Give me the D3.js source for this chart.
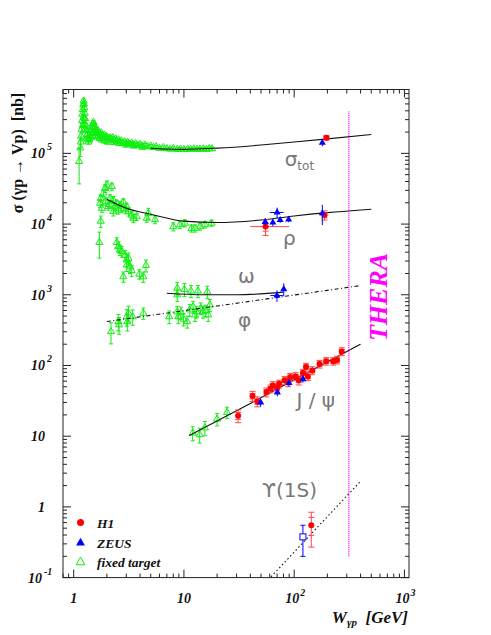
<!DOCTYPE html>
<meta charset="utf-8">
<script src="https://d3js.org/d3.v7.min.js"></script>
<style>
body { margin: 0; background: #fff; }
</style>
<body>
<script>
// ---- data: [W (GeV), sigma (nb), error (nb), (optional) W low, W high] ----
var totFixed = [
  [1.12,7.7e4,4e4],[1.15,1.2e5,3e4],[1.16,1.45e5,2.5e4],[1.17,1.75e5,2e4],[1.18,2.2e5,2e4],
  [1.19,2.9e5,2.5e4],[1.2,3.6e5,3e4],[1.21,4.2e5,3e4],[1.22,4.9e5,3e4],[1.23,5.5e5,4e4],
  [1.24,5.0e5,3e4],[1.25,4.4e5,2.5e4],[1.26,3.7e5,2e4],[1.27,3.1e5,2e4],[1.29,2.5e5,1.5e4],
  [1.31,2.1e5,1.5e4],[1.33,1.85e5,1.2e4],[1.35,1.65e5,1e4],[1.37,1.55e5,1e4],[1.39,1.6e5,1e4],
  [1.41,1.75e5,1e4],[1.43,1.95e5,1e4],[1.45,2.15e5,1.2e4],[1.47,2.35e5,1.2e4],[1.49,2.6e5,1.5e4],
  [1.51,2.75e5,1.5e4],[1.53,2.55e5,1.2e4],[1.55,2.35e5,1.2e4],[1.58,2.2e5,1e4],[1.6,2.05e5,1e4],
  [1.63,1.95e5,1e4],[1.66,2.1e5,1e4],[1.7,1.9e5,1e4],[1.74,1.8e5,1e4],[1.78,1.95e5,1e4],
  [1.82,1.75e5,1e4],[1.86,1.68e5,1e4],[1.9,1.82e5,1e4],[1.95,1.62e5,1e4],[2.0,1.72e5,1e4],
  [2.05,1.6e5,1e4],[2.1,1.55e5,1e4],[2.15,1.68e5,1e4],[2.2,1.58e5,8e3],[2.27,1.66e5,8e3],
  [2.33,1.52e5,8e3],[2.4,1.6e5,8e3],[2.47,1.48e5,8e3],[2.55,1.55e5,8e3],[2.62,1.45e5,8e3],
  [2.7,1.5e5,8e3],[2.8,1.41e5,8e3],[2.9,1.46e5,8e3],[3.0,1.38e5,8e3],[3.1,1.43e5,8e3],
  [3.2,1.35e5,7e3],[3.35,1.4e5,7e3],[3.5,1.32e5,7e3],[3.65,1.37e5,7e3],[3.8,1.3e5,7e3],
  [4.0,1.34e5,7e3],[4.2,1.27e5,7e3],[4.45,1.31e5,7e3],[4.7,1.24e5,6e3],[5.0,1.27e5,6e3],
  [5.3,1.21e5,6e3],[5.6,1.24e5,6e3],[6.0,1.18e5,6e3],[6.5,1.21e5,6e3],[7.0,1.17e5,6e3],
  [7.5,1.15e5,6e3],[8.0,1.17e5,6e3],[8.7,1.14e5,6e3],[9.3,1.15e5,6e3],[10,1.13e5,6e3],
  [10.8,1.15e5,6e3],[11.5,1.14e5,6e3],[12.3,1.16e5,6e3],[13.2,1.14e5,6e3],[14,1.15e5,6e3],
  [15,1.16e5,6e3],[16,1.14e5,6e3],[17,1.17e5,6e3],[18,1.16e5,6e3],
  [1.3,1.6e5,1e4],[1.36,1.45e5,1e4],[1.44,1.7e5,1e4],[1.5,1.9e5,1e4],[1.56,1.75e5,1e4],
  [1.65,1.7e5,1e4],[1.72,1.62e5,1e4],[1.8,1.55e5,1e4],[1.92,1.5e5,1e4],[2.03,1.45e5,1e4],
  [2.3,1.43e5,8e3],[2.6,1.38e5,8e3],[3.0,1.31e5,7e3],[3.5,1.27e5,7e3],[4.2,1.22e5,6e3],
  [1.27,2.2e5,2e4],[1.25,2.6e5,2e4],[1.23,3.2e5,3e4],[1.21,2.5e5,2e4]
];
var rhoFixed = [
  [1.71,5.5e3,2.2e3],[1.76,1.1e4,2e3],[1.74,1.97e4,2.5e3],[1.76,2.31e4,2.5e3],[1.8,1.67e4,2e3],
  [1.86,2.75e4,3e3],[1.93,3.2e4,4e3],[2.0,3.57e4,5e3],[2.22,3.4e4,4e3],[2.14,2.3e4,3e3],
  [2.06,1.77e4,2e3],[2.29,2.2e4,2.5e3],[2.29,1.5e4,2e3],[2.46,1.97e4,2e3],[2.54,1.58e4,2e3],
  [2.63,1.86e4,2e3],[2.82,2.06e4,2e3],[3.03,1.77e4,2e3],[3.14,1.5e4,2e3],[3.36,1.34e4,1.5e3],
  [3.48,1.21e4,1.5e3],[3.73,1.27e4,1.5e3],[4.6,1.21e4,1.5e3],[4.75,1.42e4,2.5e3],[5.47,1.16e4,1.5e3],
  [1.95,2.1e4,2.5e3],[2.1,1.9e4,2e3],[2.38,1.75e4,2e3],[2.7,1.65e4,2e3],[2.95,1.6e4,2e3],
  [8.0,9.2e3,1.2e3],[9.2,9.8e3,1.2e3],[10.2,1.03e4,1.2e3],[11.7,8.7e3,1e3],[12.6,8.7e3,1e3],
  [14,9.2e3,1e3],[15.5,9.8e3,1e3],[17.8,1.03e4,1e3]
];
var omegaFixed = [
  [2.46,5.5e3,900],[2.54,4.8e3,800],[2.63,4.3e3,700],[2.73,4.1e3,700],[2.93,3.6e3,600],
  [3.03,3.1e3,600],[3.14,3.3e3,600],[3.03,2.64e3,500],[3.25,2.5e3,500],[2.82,1.8e3,300],
  [3.36,2.2e3,400],[3.94,1.96e3,300],[4.28,1.8e3,300],[4.53,2.6e3,500],
  [8.7,1.0e3,200],[8.7,1.24e3,250],[10.1,1.19e3,250],[11.6,1.13e3,220],[13.4,1.13e3,220],[16.3,1.1e3,220]
];
var phiFixed = [
  [2.18,302,100],[2.54,418,110],[2.58,377,100],[3.03,490,130],[3.14,550,140],[3.07,418,110],
  [3.43,490,120],[4.28,550,100],
  [7.36,490,100],[8.7,577,110],[8.9,490,100],[9.9,452,90],[10.7,418,80],[11.3,612,120],
  [12.1,678,130],[13.0,577,110],[14.2,645,120],[14.9,577,110],[16.6,520,100],[17.2,718,140],
  [9.4,560,110],[12.6,520,100],[15.8,600,110]
];
var psiFixed = [[12,11.1,2.5],[13.9,10.5,2.5],[15.5,13.1,3],[20,17.5,3.5],[24.6,21.7,4]];

var totH1 = [[196,1.66e5,1.2e4]];
var rhoH1 = [[55,9.2e3,2.3e3,40,90],[188,1.34e4,2e3,172,205]];
var psiH1 = [
  [31,19.5,4],[41.9,37,6],[46.3,31,5],[56,42,6],[61,47,6],[64,52,7],[70,48,6],[73,55,7],
  [82,62,8],[88,58,8],[92,68,9],[103,70,9],[110,62,9],[120,78,10],[128,95,12],[133,70,9],
  [146,85,11],[170,105,13],[195,115,14],[226,115,14],[245,120,15],[270,158,20]
];
var upsH1 = [[143,0.55,0.28,0.29]];

var totZeus = [[180,1.41e5,1.5e4]];
var rhoZeus = [[54.6,1.07e4,1.3e3],[64,1.05e4,1.2e3],[74.6,1.14e4,1e3],[89,1.16e4,1e3],
  [70,1.46e4,2.5e3,60,80],[180,1.42e4,4.5e3]];
var omegaZeus = [[80.4,1.2e3,250]];
var phiZeus = [[69.8,975,180,60.7,79]];
var psiZeus = [[49.6,30,4],[70.4,41.6,5],[89.8,56.5,6],[120,64,7]];
var upsZeus = [[120,0.377,0.177,0.173]];

// fitted curves
var totFitW = [5, 7, 10, 20, 50, 100, 200, 500];
var totFitS = [1.18e5, 1.15e5, 1.14e5, 1.185e5, 1.31e5, 1.445e5, 1.6e5, 1.85e5];
var rhoFitW = [2, 3, 5, 10, 20, 50, 100, 200, 500];
var rhoFitS = [2.24e4, 1.67e4, 1.38e4, 1.1e4, 1.05e4, 1.14e4, 1.3e4, 1.45e4, 1.62e4];
var omegaFitW = [7, 15, 30, 80];
var omegaFitS = [1.05e3, 1.0e3, 1.0e3, 1.09e3];
var phiFitW = [2, 20, 400];
var phiFitS = [418, 694, 1350];
var psiFitW = [11.2, 40, 100, 400];
var psiFitS = [10.2, 29, 63, 200];
var upsFitW = [55, 400];
var upsFitS = [0.085, 2.3];
var theraW = 313;
var theraS = [0.2, 3.9e5];

// axis labels
var xTickVals = [1, 10, 100, 1000];
var xTickBase = ["1", "10", "10", "10"];
var xTickExp = ["", "", "2", "3"];
var yTickVals = [0.1, 1, 10, 100, 1000, 1e4, 1e5];
var yTickBase = ["10", "1", "10", "10", "10", "10", "10"];
var yTickExp = ["-1", "", "", "2", "3", "4", "5"];

// curve names, placed at (W, sigma) of their left/baseline corner
var curveLabels = [
  {t: "σ", sub: "tot", W: 82, s: 6.6e4},
  {t: "ρ", sub: "", W: 79, s: 5.1e3},
  {t: "ω", sub: "", W: 31, s: 1.47e3},
  {t: "φ", sub: "", W: 31, s: 350},
  {t: "J / ψ", sub: "", W: 105, s: 26},
  {t: "ϒ(1S)", sub: "", W: 51, s: 1.4}
];

var legendNames = ["H1", "ZEUS", "fixed target"];

// ---- drawing ----
var width = 491, height = 635;
var svg = d3.select("body").append("svg")
  .attr("width", width).attr("height", height);

var x = d3.scaleLog().domain([0.8, 1100]).range([63, 409]);
var y = d3.scaleLog().domain([0.1, 8e5]).range([577.6, 89.5]);
var x0 = x.range()[0], x1 = x.range()[1], y0 = y.range()[0], y1 = y.range()[1];

svg.append("clipPath").attr("id", "plot")
  .append("rect").attr("x", x0).attr("y", y1).attr("width", x1 - x0).attr("height", y0 - y1);

var green = "#11ee11", red = "#ff0000", blue = "#0000ff", magenta = "#ff00ff";
var serif = "'Liberation Serif', 'Times New Roman', serif";

var plot = svg.append("g").attr("clip-path", "url(#plot)");

function up(d) { return d.length === 4 ? d[3] : d[2]; }
function down(d) { return d[2]; }

// error bars + markers
function drawErrors(data, color, cap) {
  var g = plot.append("g").attr("stroke", color).attr("stroke-width", 1).attr("fill", "none");
  data.forEach(function(d) {
    var lo = Math.max(d[1] - down(d), 0.02), hi = d[1] + up(d);
    var cx = x(d[0]);
    g.append("line").attr("x1", cx).attr("x2", cx).attr("y1", y(lo)).attr("y2", y(hi));
    if (cap) {
      g.append("line").attr("x1", cx - cap).attr("x2", cx + cap).attr("y1", y(lo)).attr("y2", y(lo));
      g.append("line").attr("x1", cx - cap).attr("x2", cx + cap).attr("y1", y(hi)).attr("y2", y(hi));
    }
    if (d.length === 5) {
      g.append("line").attr("x1", x(d[3])).attr("x2", x(d[4])).attr("y1", y(d[1])).attr("y2", y(d[1]));
    }
  });
}

function drawFixed(data) {
  drawErrors(data, green, 2);
  plot.append("g").selectAll("path").data(data).join("path")
    .attr("transform", function(d) { return "translate(" + x(d[0]) + "," + y(d[1]) + ")"; })
    .attr("d", d3.symbol(d3.symbolTriangle, 22))
    .attr("fill", "none").attr("stroke", green).attr("stroke-width", 1);
}

function drawH1(data) {
  var g = plot.append("g").attr("stroke", "#ff4848").attr("stroke-width", 1);
  data.forEach(function(d) {
    var cx = x(d[0]);
    var lo = Math.max(d[1] - down(d), 0.02), hi = d[1] + up(d);
    g.append("line").attr("x1", cx).attr("x2", cx).attr("y1", y(lo)).attr("y2", y(hi));
    [lo, hi, d[1] - down(d) * 0.55, d[1] + up(d) * 0.55].forEach(function(v) {
      g.append("line").attr("x1", cx - 3).attr("x2", cx + 3).attr("y1", y(v)).attr("y2", y(v));
    });
    if (d.length === 5) {
      g.append("line").attr("x1", x(d[3])).attr("x2", x(d[4])).attr("y1", y(d[1])).attr("y2", y(d[1]));
    }
  });
  plot.append("g").selectAll("circle").data(data).join("circle")
    .attr("cx", function(d) { return x(d[0]); })
    .attr("cy", function(d) { return y(d[1]); })
    .attr("r", 3).attr("fill", red);
}

function drawZeus(data) {
  var g = plot.append("g").attr("stroke", blue).attr("stroke-width", 1);
  data.forEach(function(d) {
    var cx = x(d[0]);
    var lo = Math.max(d[1] - down(d), 0.02), hi = d[1] + up(d);
    g.append("line").attr("x1", cx).attr("x2", cx).attr("y1", y(lo)).attr("y2", y(hi));
    if (d.length === 5) {
      g.append("line").attr("x1", x(d[3])).attr("x2", x(d[4])).attr("y1", y(d[1])).attr("y2", y(d[1]));
    }
  });
  plot.append("g").selectAll("path").data(data).join("path")
    .attr("transform", function(d) { return "translate(" + x(d[0]) + "," + y(d[1]) + ")"; })
    .attr("d", d3.symbol(d3.symbolTriangle, 22))
    .attr("fill", blue);
}

function drawFit(ws, ss, dash) {
  var pts = ws.map(function(w, i) { return [w, ss[i]]; });
  plot.append("path").datum(pts)
    .attr("d", d3.line().x(function(d) { return x(d[0]); }).y(function(d) { return y(d[1]); })
      .curve(d3.curveMonotoneX))
    .attr("fill", "none").attr("stroke", "#111").attr("stroke-width", 1.1)
    .attr("stroke-dasharray", dash || null);
}

// fixed target data
drawFixed(totFixed);
drawFixed(rhoFixed);
drawFixed(omegaFixed);
drawFixed(phiFixed);
drawFixed(psiFixed);

// fits
drawFit(totFitW, totFitS);
drawFit(rhoFitW, rhoFitS);
drawFit(omegaFitW, omegaFitS);
drawFit(phiFitW, phiFitS, "4,2.5,1,2.5");
drawFit(psiFitW, psiFitS);
drawFit(upsFitW, upsFitS, "1.5,2.5");

// THERA line
plot.append("line")
  .attr("x1", x(theraW)).attr("x2", x(theraW))
  .attr("y1", y(theraS[0])).attr("y2", y(theraS[1]))
  .attr("stroke", magenta).attr("stroke-width", 1.3).attr("stroke-dasharray", "1,1");

// HERA data
drawH1(totH1); drawH1(rhoH1); drawH1(psiH1); drawH1(upsH1);
drawZeus(totZeus); drawZeus(rhoZeus); drawZeus(omegaZeus); drawZeus(phiZeus); drawZeus(psiZeus);

// ZEUS upsilon: open square
(function() {
  var g = plot.append("g").attr("stroke", blue).attr("fill", "none");
  upsZeus.forEach(function(d) {
    var cx = x(d[0]);
    var lo = d[1] - d[2], hi = d[1] + d[3];
    g.append("line").attr("x1", cx).attr("x2", cx).attr("y1", y(lo)).attr("y2", y(d[1]) + 3);
    g.append("line").attr("x1", cx).attr("x2", cx).attr("y1", y(d[1]) - 3).attr("y2", y(hi));
    [lo, hi].forEach(function(v) {
      g.append("line").attr("x1", cx - 2.5).attr("x2", cx + 2.5).attr("y1", y(v)).attr("y2", y(v));
    });
    g.append("rect").attr("x", cx - 3).attr("y", y(d[1]) - 3).attr("width", 6).attr("height", 6)
      .attr("fill", "#fff");
  });
})();

// ---- frame and ticks ----
var axes = svg.append("g").attr("stroke", "#222").attr("stroke-width", 1);
axes.append("rect").attr("x", x0).attr("y", y1).attr("width", x1 - x0).attr("height", y0 - y1)
  .attr("fill", "none");

function logTicks(scale) {
  var d = scale.domain(), out = [];
  for (var e = Math.floor(Math.log10(d[0])); e <= Math.ceil(Math.log10(d[1])); e++) {
    for (var m = 1; m <= 9; m++) {
      var v = m * Math.pow(10, e);
      if (v >= d[0] && v <= d[1]) out.push({v: v, major: m === 1});
    }
  }
  return out;
}

logTicks(x).forEach(function(t) {
  var px = x(t.v), len = t.major ? 8 : 4;
  axes.append("line").attr("x1", px).attr("x2", px).attr("y1", y0).attr("y2", y0 - len);
  axes.append("line").attr("x1", px).attr("x2", px).attr("y1", y1).attr("y2", y1 + len);
});
logTicks(y).forEach(function(t) {
  var py = y(t.v), len = t.major ? 8 : 4;
  axes.append("line").attr("x1", x0).attr("x2", x0 + len).attr("y1", py).attr("y2", py);
  axes.append("line").attr("x1", x1).attr("x2", x1 - len).attr("y1", py).attr("y2", py);
});

// tick labels
var lab = svg.append("g").attr("font-family", serif).attr("font-weight", "bold")
  .attr("font-style", "italic").attr("fill", "#111");

xTickVals.forEach(function(v, i) {
  var px = x(v) - (xTickExp[i] ? 2 : 0);
  lab.append("text").attr("x", px).attr("y", 603).attr("text-anchor", "middle")
    .attr("font-size", 14).text(xTickBase[i]);
  if (xTickExp[i]) {
    lab.append("text").attr("x", px + 8).attr("y", 596).attr("font-size", 10).text(xTickExp[i]);
  }
});
yTickVals.forEach(function(v, i) {
  var py = y(v) + 5;
  var right = yTickExp[i] === "-1" ? 42 : 45;
  lab.append("text").attr("x", right).attr("y", py).attr("text-anchor", "end")
    .attr("font-size", 14).text(yTickBase[i]);
  if (yTickExp[i]) {
    lab.append("text").attr("x", right + 2).attr("y", py - 8).attr("font-size", 10).text(yTickExp[i]);
  }
});

// axis titles
var xt = lab.append("text").attr("x", 408).attr("y", 623).attr("text-anchor", "end")
  .attr("font-size", 17).attr("xml:space", "preserve");
xt.append("tspan").text("W");
xt.append("tspan").attr("font-size", 11).attr("dy", 3).text("γp");
xt.append("tspan").attr("dy", -3).text("  [GeV]");

lab.append("text")
  .attr("transform", "translate(23,153) rotate(-90)")
  .attr("text-anchor", "middle").attr("font-size", 16).attr("font-style", "normal")
  .attr("xml:space", "preserve")
  .text("σ (γp → Vp)  [nb]");

// curve labels
var cl = svg.append("g").attr("font-family", "'DejaVu Sans ExtraLight', 'DejaVu Sans', sans-serif")
  .attr("fill", "#777");
curveLabels.forEach(function(c) {
  var t = cl.append("text").attr("x", x(c.W)).attr("y", y(c.s)).attr("font-size", 20)
    .attr("xml:space", "preserve");
  t.append("tspan").text(c.t);
  if (c.sub) t.append("tspan").attr("font-size", 12).attr("dy", 4).text(c.sub);
});

// THERA label
svg.append("text")
  .attr("transform", "translate(387,297) rotate(-90)")
  .attr("text-anchor", "middle")
  .attr("font-family", serif).attr("font-weight", "bold").attr("font-style", "italic")
  .attr("font-size", 26).attr("fill", magenta)
  .text("THERA");

// legend
var lg = svg.append("g");
var legY = [y(0.6), y(0.31), y(0.165)];
lg.append("circle").attr("cx", 80.5).attr("cy", legY[0]).attr("r", 3.5).attr("fill", red);
lg.append("path").attr("transform", "translate(80.5," + legY[1] + ")")
  .attr("d", d3.symbol(d3.symbolTriangle, 34)).attr("fill", blue);
lg.append("path").attr("transform", "translate(80.5," + legY[2] + ")")
  .attr("d", d3.symbol(d3.symbolTriangle, 34)).attr("fill", "none").attr("stroke", green);
legendNames.forEach(function(n, i) {
  lab.append("text").attr("x", 97).attr("y", legY[i] + 5).attr("font-size", 13.5).text(n);
});
</script>
</body>
